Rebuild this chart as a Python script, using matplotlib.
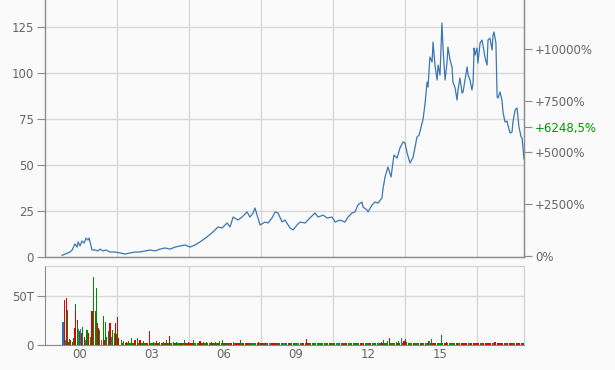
import matplotlib
matplotlib.use('Agg')
import matplotlib.pyplot as plt

# ---------------- data ----------------
years = [1999.25, 1999.58, 1999.67, 1999.79, 1999.88, 1999.92, 2000.00, 2000.08, 2000.17, 2000.25,
         2000.33, 2000.38, 2000.42, 2000.50, 2000.63, 2000.75, 2000.83, 2000.96, 2001.08, 2001.25,
         2001.46, 2001.67, 2001.88, 2002.08, 2002.29, 2002.50, 2002.71, 2002.92, 2003.13, 2003.33,
         2003.54, 2003.75, 2003.96, 2004.17, 2004.38, 2004.58, 2004.79, 2005.00, 2005.29, 2005.54,
         2005.75, 2005.92, 2006.13, 2006.25, 2006.38, 2006.58, 2006.75, 2006.96, 2007.08, 2007.21,
         2007.29, 2007.50, 2007.71, 2007.83, 2008.00, 2008.13, 2008.25, 2008.42, 2008.54, 2008.75,
         2008.88, 2009.04, 2009.17, 2009.38, 2009.58, 2009.79, 2009.92, 2010.13, 2010.29, 2010.50,
         2010.63, 2010.83, 2011.04, 2011.17, 2011.33, 2011.46, 2011.58, 2011.75, 2011.79, 2011.96,
         2012.00, 2012.17, 2012.29, 2012.42, 2012.58, 2012.63, 2012.71, 2012.83, 2012.96, 2013.08,
         2013.21, 2013.33, 2013.46, 2013.54, 2013.63, 2013.75, 2013.88, 2014.04, 2014.13, 2014.25,
         2014.29, 2014.38, 2014.46, 2014.50, 2014.58, 2014.67, 2014.71, 2014.79, 2014.88, 2014.92,
         2015.00, 2015.08, 2015.13, 2015.21, 2015.29, 2015.33, 2015.42, 2015.50, 2015.54, 2015.63,
         2015.71, 2015.75, 2015.83, 2015.92, 2015.96, 2016.04, 2016.13, 2016.17, 2016.25, 2016.33,
         2016.38, 2016.42, 2016.46, 2016.54, 2016.58, 2016.67, 2016.75, 2016.79, 2016.88, 2016.96,
         2017.00, 2017.08, 2017.17, 2017.21, 2017.25, 2017.33, 2017.38, 2017.42, 2017.50, 2017.58,
         2017.63, 2017.71, 2017.79, 2017.83, 2017.92, 2018.00, 2018.04, 2018.13, 2018.21, 2018.25,
         2018.29, 2018.38, 2018.42, 2018.46, 2018.50]
price = [0.9, 2.7, 3.8, 7.1, 5.4, 8.2, 6.0, 8.7, 7.6, 10.3,
         9.2, 10.3, 8.2, 3.8, 3.8, 3.3, 4.3, 3.3, 3.8, 2.7,
         2.7, 2.2, 1.6, 2.2, 2.7, 2.7, 3.3, 3.8, 3.3, 4.3,
         4.9, 4.3, 5.4, 6.0, 6.5, 5.4, 6.5, 8.2, 10.9, 13.6,
         16.3, 15.8, 18.5, 16.3, 21.7, 20.1, 21.7, 24.5, 21.7, 23.9,
         26.6, 17.4, 19.0, 18.5, 21.2, 24.5, 23.9, 19.0, 20.1, 15.8,
         14.7, 17.4, 19.0, 18.5, 21.2, 23.9, 21.7, 22.8, 21.2, 21.7,
         19.0, 20.1, 19.0, 21.7, 23.9, 24.5, 28.3, 29.9, 27.2, 25.5,
         24.5, 28.3, 29.9, 29.3, 32.1, 37.5, 43.5, 48.9, 43.5, 55.4,
         53.8, 59.2, 62.5, 62.0, 56.5, 51.1, 54.3, 65.2, 66.3, 72.8,
         74.5, 83.7, 95.1, 92.4, 108.7, 106.0, 116.8, 104.3, 96.2, 104.3,
         98.9, 127.2, 112.5, 96.2, 105.4, 114.1, 107.1, 103.3, 95.1, 91.8,
         85.3, 90.8, 97.3, 89.1, 89.7, 96.2, 103.3, 98.9, 96.2, 90.8,
         94.6, 113.6, 109.8, 113.6, 105.4, 116.3, 117.9, 115.2, 108.2, 104.3,
         117.9, 119.0, 112.5, 120.7, 122.3, 116.3, 87.0, 86.4, 89.7, 85.3,
         78.3, 73.4, 73.9, 71.7, 67.4, 67.9, 73.4, 79.9, 81.0, 76.1,
         70.7, 65.2, 64.7, 59.2, 53.3]

vol_years = [1999.26, 1999.29, 1999.35, 1999.38, 1999.42, 1999.46, 1999.52, 1999.56, 1999.62, 1999.67,
             1999.73, 1999.77, 1999.80, 1999.83, 1999.88, 1999.90, 1999.94, 1999.98, 2000.02, 2000.06,
             2000.10, 2000.17, 2000.23, 2000.29, 2000.35, 2000.42, 2000.46, 2000.50, 2000.52, 2000.57,
             2000.63, 2000.68, 2000.73, 2000.77, 2000.83, 2000.88, 2000.96, 2001.00, 2001.05, 2001.10,
             2001.18, 2001.25, 2001.30, 2001.36, 2001.42, 2001.46, 2001.53, 2001.55, 2001.60, 2001.74,
             2001.83, 2001.92, 2002.01, 2002.15, 2002.29, 2002.39, 2002.50, 2002.64, 2002.89, 2003.06,
             2003.20, 2003.33, 2003.47, 2003.61, 2003.72, 2003.89, 2004.03, 2004.35, 2004.51, 2004.72,
             2005.00, 2005.14, 2005.28, 2005.49, 2005.63, 2005.83, 2005.94, 2006.18, 2006.39, 2006.67,
             2006.95, 2007.22, 2007.43, 2007.64, 2008.06, 2008.33, 2008.61, 2008.89, 2009.45, 2010.00,
             2010.07, 2010.97, 2011.81, 2011.83, 2012.43, 2012.57, 2012.64, 2012.80, 2012.89, 2013.19,
             2013.26, 2013.33, 2013.40, 2013.50, 2013.58, 2013.61, 2013.89, 2014.03, 2014.51, 2014.55,
             2014.65, 2014.72, 2015.07, 2015.28, 2017.29, 2017.50, 2018.47]
vol_vals = [9, 23, 46, 5, 48, 36, 3, 6, 5, 3,
            7, 17, 42, 36, 25, 20, 16, 14, 16, 12,
            18, 8, 5, 15, 12, 8, 5, 35, 25, 69,
            35, 58, 22, 17, 15, 5, 30, 5, 23, 8,
            14, 22, 8, 15, 12, 22, 11, 29, 7, 5,
            4, 3, 4, 7, 5, 7, 5, 4, 14, 3,
            4, 3, 3, 5, 9, 3, 3, 5, 3, 5,
            4, 3, 3, 3, 3, 4, 5, 2, 3, 5,
            2, 2, 3, 2, 2, 2, 2, 2, 6.5, 2.4,
            1.7, 1.4, 1.7, 2.4, 2.4, 3.4, 5.1, 4.4, 7.5, 3.1,
            4.4, 2.4, 7.5, 4.4, 6.5, 3.4, 2.4, 2.4, 4.4, 4.4,
            6.5, 2.4, 10.5, 3.4, 3.4, 2.0, 2.0]
vol_colors = ("rbrbrgrgrg"
              "grgrrgbgbr"
              "grbgrgbrrg"
              "ggrrgbgrgg"
              "grbggrgrrg"
              "grggrgrgrg"
              "rgggrgggrg"
              "rggrgggrgg"
              "rgrgrgggrg"
              "grgrbrggrg"
              "grbrrgrgrb"
              "grgrrrgggg"
              "gggggrgggg"
              "rrgrgrrrgg"
              "grgrggrggg"
              "grgrrgg")

base_start = 2001.8
base_step = 0.1
base_height = 1.8
base_colors = ("grgggrgrggrgggrgrgrg"
               "grggrgrgrrgggrgrgrgg"
               "rgrgbrgrrgrgrgbgrgrr"
               "gbrrgrgbgrgggbgrgrgg"
               "ggbgggrggbgggrgggggr"
               "gggrggggrgggggrgggrg"
               "ggggrgggggrgggrggggr"
               "grrrgrrrrgrrrrgrrrrg"
               "rrrgrrrrg")

left_ticks = [0, 25, 50, 75, 100, 125]
pct_ticks = [0, 2500, 5000, 7500, 10000]
pct_labels = ['0%', '+2500%', '+5000%', '+7500%', '+10000%']
last_pct = 6248.5
last_pct_label = '+6248,5%'
x_label_pos = [2000, 2003, 2006, 2009, 2012, 2015]
x_labels = ['00', '03', '06', '09', '12', '15']
x_grid_pos = [2001.54, 2004.54, 2007.54, 2010.54, 2013.54, 2016.54]
vol_ticks = [0, 50]
vol_tick_labels = ['0', '50T']

# ---------------- style ----------------
BG = '#fafafa'
GRID = '#d8d8d8'
AXC = '#8c8c8c'
TXT = '#666666'
LINE = '#3a76b4'
CMAP = {'r': '#e00000', 'g': '#008a00', 'b': '#3170b5'}
FS = 8.5

fig = plt.figure(figsize=(6.15, 3.7), dpi=100)
fig.patch.set_facecolor(BG)

W, H = 615.0, 370.0
x0, x1 = 45, 524
ax = fig.add_axes([x0 / W, 1 - 257 / H, (x1 - x0) / W, 257 / H])
axv = fig.add_axes([x0 / W, 1 - 345 / H, (x1 - x0) / W, 79 / H])

xlim = (1998.54, 2018.5)

# main price panel
ax.set_facecolor(BG)
ax.plot(years, price, color=LINE, lw=0.9, zorder=3)
ax.set_xlim(*xlim)
ax.set_ylim(0, 139.7)
ax.set_yticks(left_ticks)
ax.set_yticklabels([str(t) for t in left_ticks])
ax.set_xticks(x_grid_pos)
ax.set_xticklabels([])
ax.tick_params(axis='x', length=0)
ax.tick_params(axis='y', direction='out', length=6, width=0.8, color=AXC,
               labelcolor=TXT, labelsize=FS, pad=2)
ax.grid(True, color=GRID, lw=1.0, zorder=0)
ax.set_axisbelow(True)
ax.spines['top'].set_visible(False)
for s in ['left', 'bottom', 'right']:
    ax.spines[s].set_color(AXC)
    ax.spines[s].set_linewidth(1.0)

# right percent axis: 0% sits at price 0.65, 10000% at price 113.0
axr = ax.twinx()
pmin = (0 - 0.65) / 112.35 * 10000
pmax = (139.7 - 0.65) / 112.35 * 10000
axr.set_ylim(pmin, pmax)
axr.set_yticks(pct_ticks + [last_pct])
axr.set_yticklabels(pct_labels + [last_pct_label])
axr.tick_params(axis='y', direction='out', length=6, width=0.8, color=AXC,
                labelcolor=TXT, labelsize=FS, pad=2)
axr.get_yticklabels()[-1].set_color('#009400')
for s in ['top', 'left', 'bottom']:
    axr.spines[s].set_visible(False)
axr.spines['right'].set_color(AXC)

# volume panel
axv.set_facecolor(BG)
cols = [CMAP[c] for c in vol_colors[:len(vol_vals)]]
base_years = [base_start + i * base_step for i in range(len(base_colors))]
axv.bar(base_years, [base_height] * len(base_years), width=0.09,
        color=[CMAP[c] for c in base_colors], linewidth=0, zorder=2)
axv.bar(vol_years, vol_vals, width=0.045, color=cols, linewidth=0, zorder=3)
axv.set_xlim(*xlim)
axv.set_ylim(0, 80.6)
axv.set_yticks(vol_ticks)
axv.set_yticklabels(vol_tick_labels)
axv.set_xticks(x_grid_pos)
axv.set_xticklabels([])
axv.set_xticks(x_label_pos, minor=True)
axv.set_xticklabels(x_labels, minor=True)
axv.tick_params(axis='x', which='both', length=0, labelcolor=TXT, labelsize=FS, pad=2)
axv.tick_params(axis='y', direction='out', length=6, width=0.8, color=AXC,
                labelcolor=TXT, labelsize=FS, pad=2)
axv.grid(True, which='major', color=GRID, lw=1.0, zorder=0)
axv.set_axisbelow(True)
for s in ['top', 'right']:
    axv.spines[s].set_color('#d0d0d0')
for s in ['left', 'bottom']:
    axv.spines[s].set_color(AXC)

fig.savefig('out.png', dpi=100, facecolor=BG)
